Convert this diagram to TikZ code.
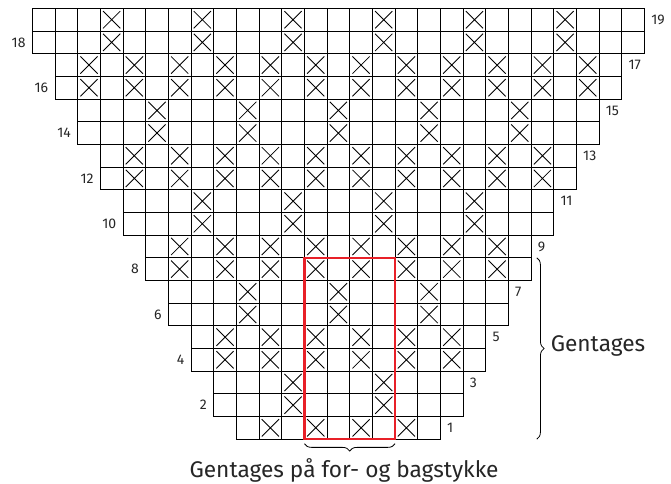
\documentclass[tikz,border=0pt]{standalone}
\usepackage{fontspec}
\setmainfont{Fira Sans}
\usepackage{tikz}
\usetikzlibrary{decorations.pathreplacing,calc}
\definecolor{repred}{RGB}{232,32,40}

\begin{document}
\begin{tikzpicture}[
  x=17pt, y=17pt,
  cell/.style={draw, line width=0.65pt},
  cross/.style={line width=0.65pt},
  rep/.style={draw=repred, line width=1.7pt},
  brc/.style={decorate, decoration={brace, amplitude=5.5pt}, line width=0.6pt},
  rownum/.style={font=\fontsize{10.5}{12}\selectfont, text=black!85, inner sep=2pt},
  lbl/.style={font=\fontsize{17}{20}\selectfont, text=black!85}
]
  \useasboundingbox (-1.425,-1.975) rectangle (28.17,19.37);
  \foreach \r in {1,...,19}{
    \pgfmathtruncatemacro{\p}{int(\r/2)}
    \pgfmathtruncatemacro{\s}{9-\p}
    \pgfmathtruncatemacro{\n}{8+2*\p}
    \foreach \i in {0,...,\n}{
      \draw[cell] (\s+\i,\r-1) rectangle ++(1,1);
      \pgfmathtruncatemacro{\m}{ifthenelse(mod(\p,2)==0, mod(\i,2)==1, mod(\i,4)==3)}
      \ifnum\m=1
        \draw[cross] (\s+\i+0.12,\r-0.88) -- ++(0.76,0.76)
                     (\s+\i+0.12,\r-0.12) -- ++(0.76,-0.76);
      \fi
    }
    \pgfmathtruncatemacro{\odd}{mod(\r,2)}
    \ifnum\odd=1
      \node[rownum, anchor=west] (num\r) at (18+\p+0.17,\r-0.5) {\r};
    \else
      \node[rownum, anchor=east] (num\r) at (\s-0.17,\r-0.5) {\r};
    \fi
  }
  \draw[rep] (12,0) rectangle (16,8);
  \draw[brc, decoration={mirror}] (12,-0.2) -- (16,-0.2);
  \draw[brc] (22.25,8) -- (22.25,0);
  \node[lbl, anchor=base] (front) at (13.75,-1.67) {Gentages på for- og bagstykke};
  \node[lbl, anchor=base west] (again) at (22.66,3.88) {Gentages};
\end{tikzpicture}
\end{document}
